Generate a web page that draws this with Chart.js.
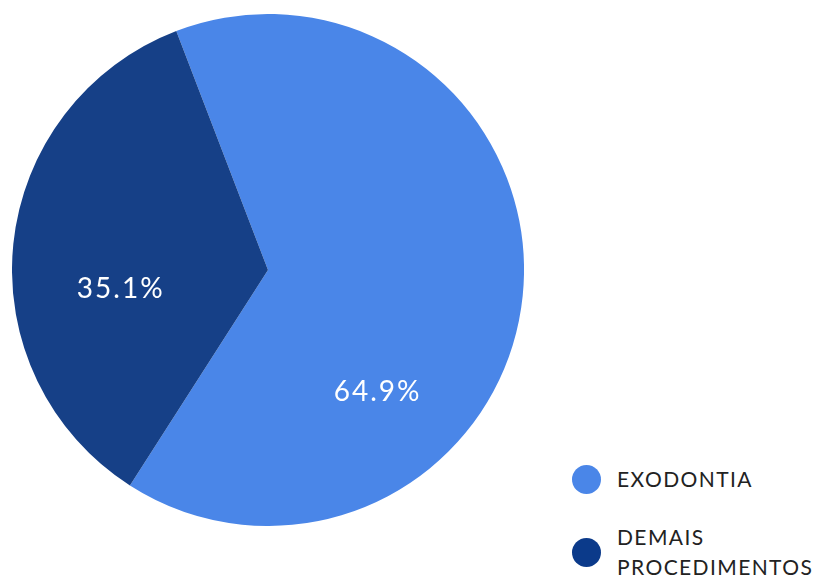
<!DOCTYPE html>
<html>
<head>
<meta charset="utf-8">
<script src="https://cdn.jsdelivr.net/npm/chart.js@4.4.0/dist/chart.umd.min.js"></script>
<style>
    html, body { margin: 0; padding: 0; background: #fff; }
    #wrap { position: relative; width: 815px; height: 575px; overflow: hidden; }
    #pieBox { position: absolute; left: 12px; top: 14px; width: 512px; height: 512px; }
    #legend { position: absolute; left: 572px; top: 464px; font-family: Lato, sans-serif; }
    .item { display: flex; align-items: center; margin-bottom: 28px; }
    .dot { width: 29px; height: 29px; border-radius: 50%; margin-right: 16px; flex: none; }
    .txt { font-size: 21px; line-height: 30px; color: #222; letter-spacing: 1.4px; }
</style>
</head>
<body>
<div id="wrap">
    <div id="pieBox"><canvas id="pieChart"></canvas></div>
    <div id="legend"></div>
</div>
<script>
const labels = ['EXODONTIA', 'DEMAIS\nPROCEDIMENTOS'];
const values = [64.9, 35.1];
const colors = ['#4a86e8', '#164087'];
const legendColors = ['#4a86e8', '#0b3a8a'];

// text labels inside the slices (angle in degrees from the right, clockwise; radius as fraction)
const labelSpots = [{ angle: 48, r: 0.64 }, { angle: 172.6, r: 0.58 }];

const sliceLabels = {
    id: 'sliceLabels',
    afterDatasetsDraw(chart) {
        const ctx = chart.ctx;
        const meta = chart.getDatasetMeta(0);
        ctx.save();
        ctx.fillStyle = '#ffffff';
        ctx.font = '400 28px Lato, sans-serif';
        ctx.letterSpacing = '2px';
        ctx.textAlign = 'center';
        ctx.textBaseline = 'middle';
        meta.data.forEach((arc, i) => {
            const a = labelSpots[i].angle * Math.PI / 180;
            const r = arc.outerRadius * labelSpots[i].r;
            ctx.fillText(values[i].toFixed(1) + '%', arc.x + Math.cos(a) * r, arc.y + Math.sin(a) * r);
        });
        ctx.restore();
    }
};

new Chart(document.getElementById('pieChart').getContext('2d'), {
    type: 'pie',
    data: {
        labels: labels,
        datasets: [{
            data: values,
            backgroundColor: colors,
            borderWidth: 0
        }]
    },
    options: {
        responsive: true,
        maintainAspectRatio: false,
        animation: { duration: 0 },
        rotation: -21,
        layout: { padding: 0 },
        plugins: {
            legend: { display: false },
            tooltip: { enabled: false }
        }
    },
    plugins: [sliceLabels]
});

const legendEl = document.getElementById('legend');
labels.forEach((label, i) => {
    const item = document.createElement('div');
    item.className = 'item';
    const dot = document.createElement('div');
    dot.className = 'dot';
    dot.style.background = legendColors[i];
    const txt = document.createElement('div');
    txt.className = 'txt';
    txt.innerHTML = label.split('\n').join('<br>');
    item.appendChild(dot);
    item.appendChild(txt);
    legendEl.appendChild(item);
});
</script>
</body>
</html>
